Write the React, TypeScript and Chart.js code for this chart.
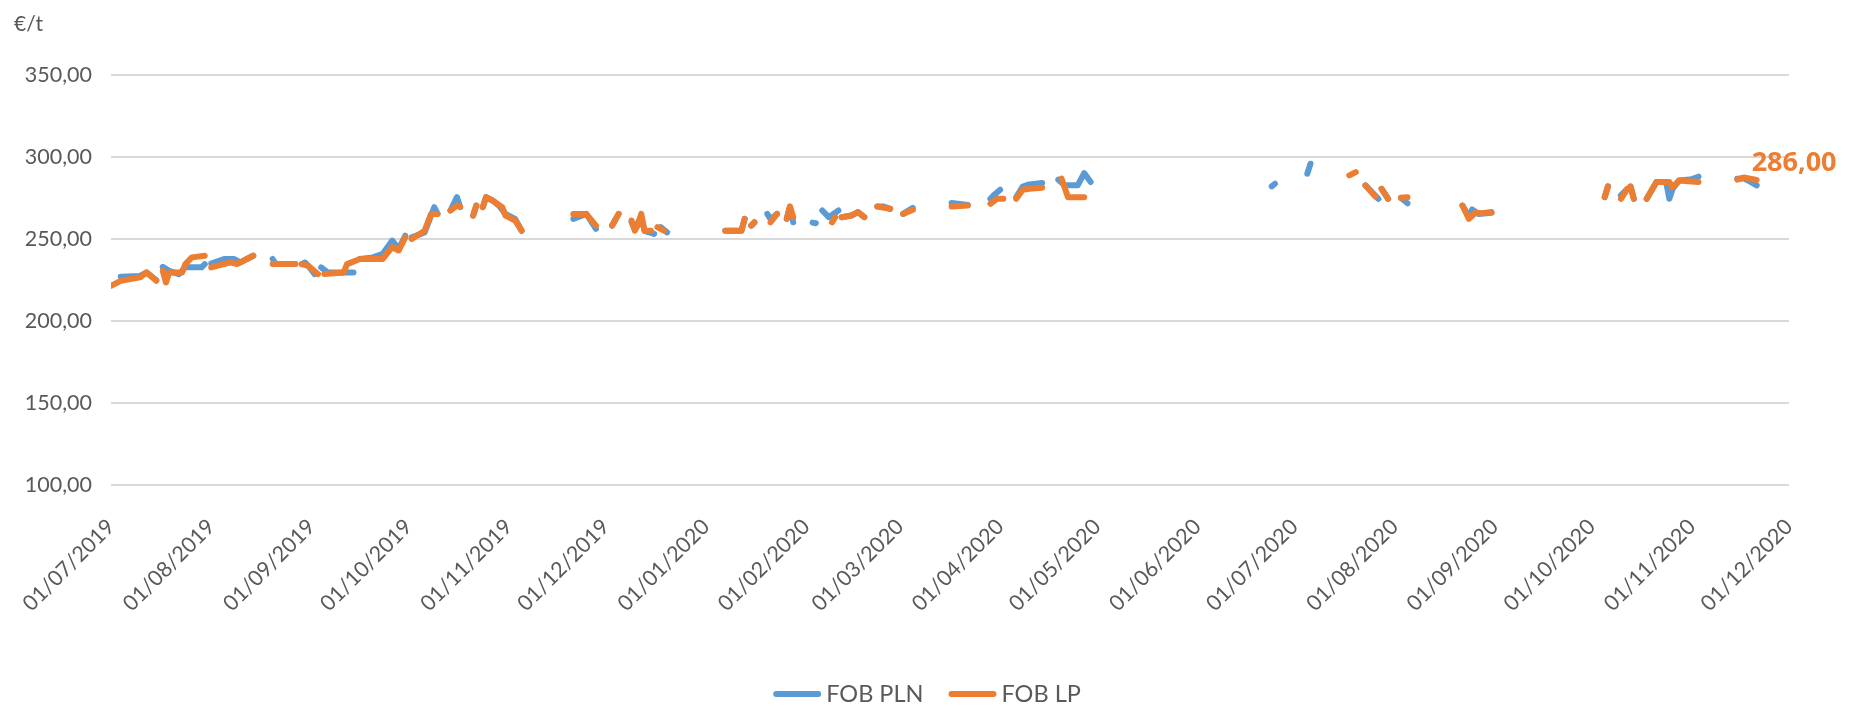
import React, { useEffect, useRef } from 'react';
import { Chart, registerables } from 'chart.js';

Chart.register(...registerables);

const FONT = "Lato, 'Open Sans', sans-serif";
const LABEL_FONT = "'Open Sans', Lato, sans-serif";
const Y_UNIT = '€/t';
const SERIES_NAMES = ['FOB PLN', 'FOB LP'];
const SERIES_COLORS = ['#5B9BD5', '#ED7D31'];
const Y_TICKS = [100, 150, 200, 250, 300, 350];
const X_TICK_DATES = [
  '01/07/2019', '01/08/2019', '01/09/2019', '01/10/2019', '01/11/2019', '01/12/2019',
  '01/01/2020', '01/02/2020', '01/03/2020', '01/04/2020', '01/05/2020', '01/06/2020',
  '01/07/2020', '01/08/2020', '01/09/2020', '01/10/2020', '01/11/2020', '01/12/2020',
];

// FOB PLN (null = no quotation -> gap)
const plnDates = [
  '04/07/2019', '10/07/2019', '12/07/2019', '15/07/2019', '16/07/2019',
  '17/07/2019', '19/07/2019', '22/07/2019', '24/07/2019', '29/07/2019', '30/07/2019', '31/07/2019',
  '01/08/2019', '05/08/2019', '08/08/2019', '10/08/2019', '14/08/2019', '17/08/2019',
  '20/08/2019', '21/08/2019', '27/08/2019', '28/08/2019',
  '29/08/2019', '30/08/2019', '31/08/2019', '02/09/2019', '03/09/2019',
  '04/09/2019', '06/09/2019', '14/09/2019', '15/09/2019',
  '16/09/2019', '20/09/2019', '23/09/2019', '26/09/2019', '28/09/2019', '30/09/2019', '01/10/2019',
  '02/10/2019', '06/10/2019', '09/10/2019', '10/10/2019', '12/10/2019',
  '14/10/2019', '16/10/2019', '17/10/2019', '19/10/2019',
  '21/10/2019', '22/10/2019', '23/10/2019',
  '24/10/2019', '25/10/2019', '27/10/2019', '29/10/2019', '31/10/2019', '03/11/2019', '05/11/2019', '13/11/2019',
  '21/11/2019', '25/11/2019', '28/11/2019', '01/12/2019',
  '03/12/2019', '05/12/2019', '07/12/2019',
  '09/12/2019', '10/12/2019', '12/12/2019', '13/12/2019', '16/12/2019', '17/12/2019',
  '18/12/2019', '20/12/2019', '28/12/2019',
  '07/01/2020', '12/01/2020', '13/01/2020', '14/01/2020',
  '15/01/2020', '16/01/2020', '18/01/2020',
  '20/01/2020', '21/01/2020', '23/01/2020', '25/01/2020',
  '26/01/2020', '27/01/2020', '28/01/2020', '31/01/2020',
  '03/02/2020', '04/02/2020', '05/02/2020',
  '06/02/2020', '08/02/2020', '11/02/2020', '11/02/2020',
  '12/02/2020', '15/02/2020', '17/02/2020', '19/02/2020', '21/02/2020',
  '23/02/2020', '25/02/2020', '27/02/2020', '29/02/2020',
  '02/03/2020', '05/03/2020', '11/03/2020',
  '17/03/2020', '22/03/2020', '26/03/2020',
  '29/03/2020', '30/03/2020', '01/04/2020', '04/04/2020',
  '06/04/2020', '08/04/2020', '10/04/2020', '14/04/2020', '17/04/2020',
  '19/04/2020', '21/04/2020', '25/04/2020', '27/04/2020', '29/04/2020', '05/06/2020',
  '24/06/2020', '25/06/2020', '26/06/2020',
  '05/07/2020', '06/07/2020', '15/07/2020',
  '23/07/2020', '27/07/2020', '27/07/2020',
  '28/07/2020', '30/07/2020', '01/08/2020',
  '03/08/2020', '05/08/2020', '14/08/2020',
  '22/08/2020', '24/08/2020', '25/08/2020', '27/08/2020', '31/08/2020', '13/09/2020',
  '05/10/2020', '06/10/2020', '08/10/2020',
  '10/10/2020', '12/10/2020', '12/10/2020',
  '13/10/2020', '14/10/2020', '16/10/2020',
  '18/10/2020', '21/10/2020', '24/10/2020', '25/10/2020', '26/10/2020', '28/10/2020', '01/11/2020', '03/11/2020', '09/11/2020',
  '15/11/2020', '17/11/2020', '19/11/2020', '21/11/2020',
];
const plnValues = [
  227, 227.5, 229.6, 225, null,
  233, 230.6, 228.6, 232.7, 232.7, 234.7, null,
  235, 237.8, 237.8, 235.7, 239.8, null,
  237.8, 234.7, 234.7, null,
  234.7, 235.7, 233.7, 228.6, null,
  232.7, 229.6, 229.6, null,
  237.8, 238.8, 240.9, 249, 244, 252, null,
  251, 254, 269.4, 265.3, null,
  267.4, 275.5, 269.4, null,
  264.3, 270.4, null,
  269.4, 275.5, 273.5, 270.4, 265.3, 262.3, 255, null,
  262.3, 265.3, 256.2, null,
  258.2, 265.3, null,
  260.2, 256, 264, 255, 253.1, null,
  257.2, 254, null,
  255.1, 255.1, 262.3, null,
  258.2, 260.2, null,
  265.3, 262, 265.3, null,
  262.3, 269.8, 260.2, null,
  260, 259.6, null,
  267.4, 263.3, 267.4, null,
  263.3, 264.3, 266.4, 263.3, null,
  269.8, 269.8, 268.4, null,
  265.3, 269, null,
  271.9, 270.8, null,
  274.5, 276.6, 280, null,
  275.5, 282, 283.3, 284.1, null,
  286.1, 282.7, 282.7, 290.2, 284.7, null,
  282.1, 283.7, null,
  289.8, 295.9, null,
  282.7, 274.5, null,
  280.6, 274.5, null,
  275, 271.8, null,
  270.4, 263.5, 268, 265.3, 266, null,
  275.5, 282.1, null,
  276.6, 280.6, null,
  282, 274.5, null,
  274.5, 284.7, 284.7, 274.5, 280.6, 285.7, 286.5, 288, null,
  286.8, 287, 285, 282.7,
];

// FOB LP (null = no quotation -> gap)
const lpDates = [
  '01/07/2019', '04/07/2019', '10/07/2019', '12/07/2019', '15/07/2019', '16/07/2019',
  '17/07/2019', '18/07/2019', '19/07/2019', '23/07/2019', '24/07/2019', '26/07/2019', '30/07/2019', '31/07/2019',
  '01/08/2019', '07/08/2019', '09/08/2019', '12/08/2019', '14/08/2019', '17/08/2019',
  '20/08/2019', '27/08/2019', '28/08/2019',
  '29/08/2019', '31/08/2019', '03/09/2019', '04/09/2019',
  '05/09/2019', '11/09/2019', '12/09/2019', '16/09/2019', '23/09/2019', '26/09/2019', '28/09/2019', '30/09/2019', '01/10/2019',
  '02/10/2019', '06/10/2019', '08/10/2019', '10/10/2019', '12/10/2019',
  '14/10/2019', '16/10/2019', '17/10/2019', '19/10/2019',
  '21/10/2019', '22/10/2019', '23/10/2019',
  '24/10/2019', '25/10/2019', '27/10/2019', '30/10/2019', '31/10/2019', '03/11/2019', '05/11/2019', '13/11/2019',
  '21/11/2019', '25/11/2019', '28/11/2019', '01/12/2019',
  '03/12/2019', '05/12/2019', '07/12/2019',
  '09/12/2019', '10/12/2019', '11/12/2019', '12/12/2019', '13/12/2019', '15/12/2019', '16/12/2019',
  '17/12/2019', '19/12/2019', '28/12/2019',
  '07/01/2020', '12/01/2020', '13/01/2020', '14/01/2020',
  '15/01/2020', '16/01/2020', '18/01/2020',
  '21/01/2020', '23/01/2020', '25/01/2020',
  '26/01/2020', '27/01/2020', '28/01/2020', '31/01/2020',
  '09/02/2020', '10/02/2020', '11/02/2020',
  '12/02/2020', '15/02/2020', '17/02/2020', '19/02/2020', '21/02/2020',
  '23/02/2020', '27/02/2020', '29/02/2020',
  '02/03/2020', '05/03/2020', '11/03/2020',
  '17/03/2020', '22/03/2020', '26/03/2020',
  '29/03/2020', '31/03/2020', '02/04/2020', '04/04/2020',
  '06/04/2020', '08/04/2020', '10/04/2020', '14/04/2020', '17/04/2020',
  '20/04/2020', '22/04/2020', '27/04/2020', '05/06/2020',
  '18/07/2020', '20/07/2020', '21/07/2020',
  '23/07/2020', '26/07/2020', '27/07/2020',
  '28/07/2020', '30/07/2020', '01/08/2020',
  '03/08/2020', '05/08/2020', '14/08/2020',
  '22/08/2020', '24/08/2020', '26/08/2020', '28/08/2020', '31/08/2020', '13/09/2020',
  '05/10/2020', '06/10/2020', '08/10/2020',
  '10/10/2020', '12/10/2020', '12/10/2020',
  '13/10/2020', '14/10/2020', '16/10/2020',
  '18/10/2020', '21/10/2020', '25/10/2020', '26/10/2020', '28/10/2020', '03/11/2020', '09/11/2020',
  '15/11/2020', '17/11/2020', '19/11/2020', '21/11/2020',
];
const lpValues = [
  221.5, 224.5, 226.6, 229.6, 224.5, null,
  230.6, 223.5, 229.6, 229.6, 234.7, 238.8, 239.8, null,
  232.7, 235.8, 234.7, 237.8, 239.8, null,
  234.7, 234.7, null,
  234.7, 233.7, 228.6, null,
  228.6, 229.6, 234.7, 237.8, 237.8, 245, 243, 251, null,
  250, 255, 265.3, 265.3, null,
  267.4, 270.4, 269.8, null,
  264.3, 270.4, null,
  269.4, 275.5, 273.5, 269.4, 264.3, 261.3, 255.1, null,
  265.3, 265.3, 258.2, null,
  258.2, 265.3, null,
  261.3, 255.1, 258.5, 265.3, 255.1, 255.1, null,
  257.2, 255.1, null,
  255.1, 255.1, 262.3, null,
  258.2, 260.2, null,
  260.2, 265.3, null,
  262.3, 269.8, 263.3, null,
  260.2, 263.3, null,
  263.3, 264.3, 266.4, 263.3, null,
  269.8, 268.4, null,
  265.3, 267.8, null,
  269.8, 270.4, null,
  271.5, 274.5, 274.5, null,
  274.5, 280, 280.6, 281.3, null,
  286.8, 275.5, 275.5, null,
  288.8, 290.8, null,
  282.7, 276, null,
  280.6, 274.5, null,
  275.1, 275.5, null,
  270.4, 262.3, 266, 265.7, 266.4, null,
  275.5, 282.1, null,
  274.5, 280.6, null,
  282, 274.5, null,
  274.5, 284.7, 284.7, 281.5, 285.7, 284.7, null,
  286.2, 287.5, 286.8, 286,
];

const ORIGIN = Date.UTC(2019, 6, 1);
const toDay = (s: string) => {
  const [d, m, y] = s.split('/').map(Number);
  return (Date.UTC(y, m - 1, d) - ORIGIN) / 86400000;
};
const fmtNum = (v: number) => v.toFixed(2).replace('.', ',');

export default function App() {
  const ref = useRef<HTMLCanvasElement | null>(null);

  useEffect(() => {
    if (!ref.current) return;
    const overlay = {
      id: 'overlay',
      afterDraw(chart: any) {
        const ctx = chart.ctx;
        ctx.save();
        // unit label
        ctx.fillStyle = '#595959';
        ctx.font = `21px ${FONT}`;
        ctx.textAlign = 'left';
        ctx.textBaseline = 'middle';
        ctx.fillText(Y_UNIT, 14, 24);

        // last value label for FOB LP
        let idx = lpValues.length - 1;
        while (idx >= 0 && lpValues[idx] == null) idx--;
        const meta = chart.getDatasetMeta(1);
        const pt = meta.data[idx];
        if (pt) {
          ctx.font = `bold 27px ${LABEL_FONT}`;
          ctx.fillStyle = SERIES_COLORS[1];
          ctx.fillText(fmtNum(lpValues[idx] as number), pt.x - 5, pt.y - 17);
        }

        // legend
        ctx.font = `23.5px ${FONT}`;
        const lineLen = 48;
        const gapText = 5;
        const gapItems = 25;
        const widths = SERIES_NAMES.map((n) => ctx.measureText(n).width);
        const total = widths.reduce((a, w) => a + lineLen + gapText + w, 0) + gapItems * (SERIES_NAMES.length - 1);
        let x = 927 - total / 2;
        const y = 694;
        SERIES_NAMES.forEach((n, i) => {
          ctx.strokeStyle = SERIES_COLORS[i];
          ctx.lineWidth = 6;
          ctx.lineCap = 'round';
          ctx.beginPath();
          ctx.moveTo(x + 3, y);
          ctx.lineTo(x + lineLen - 3, y);
          ctx.stroke();
          ctx.fillStyle = '#595959';
          ctx.textBaseline = 'middle';
          ctx.fillText(n, x + lineLen + gapText, y);
          x += lineLen + gapText + widths[i] + gapItems;
        });
        ctx.restore();
      },
    };

    const mk = (dates: string[], values: (number | null)[]) =>
      dates.map((d, i) => ({ x: toDay(d), y: values[i] }));

    const base = {
      borderWidth: 6,
      pointRadius: 0,
      pointHoverRadius: 0,
      borderCapStyle: 'round',
      borderJoinStyle: 'round',
      spanGaps: false,
      tension: 0,
    };

    const chart = new Chart(ref.current, {
      type: 'line',
      data: {
        datasets: [
          {
            ...base,
            label: SERIES_NAMES[0],
            data: mk(plnDates, plnValues) as any,
            borderColor: SERIES_COLORS[0],
            backgroundColor: SERIES_COLORS[0],
            order: 1,
          } as any,
          {
            ...base,
            label: SERIES_NAMES[1],
            data: mk(lpDates, lpValues) as any,
            borderColor: SERIES_COLORS[1],
            backgroundColor: SERIES_COLORS[1],
            order: 0,
          } as any,
        ],
      },
      options: {
        responsive: false,
        animation: false,
        events: [],
        layout: { padding: { top: 75, right: 60, left: 0, bottom: 0 } },
        plugins: { legend: { display: false }, tooltip: { enabled: false } },
        scales: {
          x: {
            type: 'linear',
            min: 0,
            max: toDay(X_TICK_DATES[X_TICK_DATES.length - 1]),
            grid: { display: false },
            border: { display: false },
            afterBuildTicks: (s: any) => {
              s.ticks = X_TICK_DATES.map((d) => ({ value: toDay(d) }));
            },
            afterFit: (s: any) => {
              s.height = 222;
            },
            ticks: {
              autoSkip: false,
              minRotation: 45,
              maxRotation: 45,
              padding: 21,
              color: '#595959',
              font: { family: FONT, size: 21.5 },
              callback: (_v: any, i: number) => X_TICK_DATES[i],
            },
          },
          y: {
            min: 100,
            max: 350,
            afterBuildTicks: (s: any) => {
              s.ticks = Y_TICKS.map((v) => ({ value: v }));
            },
            afterFit: (s: any) => {
              s.width = 111;
            },
            grid: { color: '#D9D9D9', lineWidth: 2, drawTicks: false },
            border: { display: false },
            ticks: {
              padding: 19,
              color: '#595959',
              font: { family: FONT, size: 21.5 },
              callback: (v: any) => fmtNum(Number(v)),
            },
          },
        },
      },
      plugins: [overlay],
    });
    return () => chart.destroy();
  }, []);

  return (
    <div style={{ position: 'fixed', left: 0, top: 0, width: 1849, height: 707, background: '#fff' }}>
      <canvas ref={ref} width={1849} height={707} style={{ display: 'block', width: 1849, height: 707 }} />
    </div>
  );
}
